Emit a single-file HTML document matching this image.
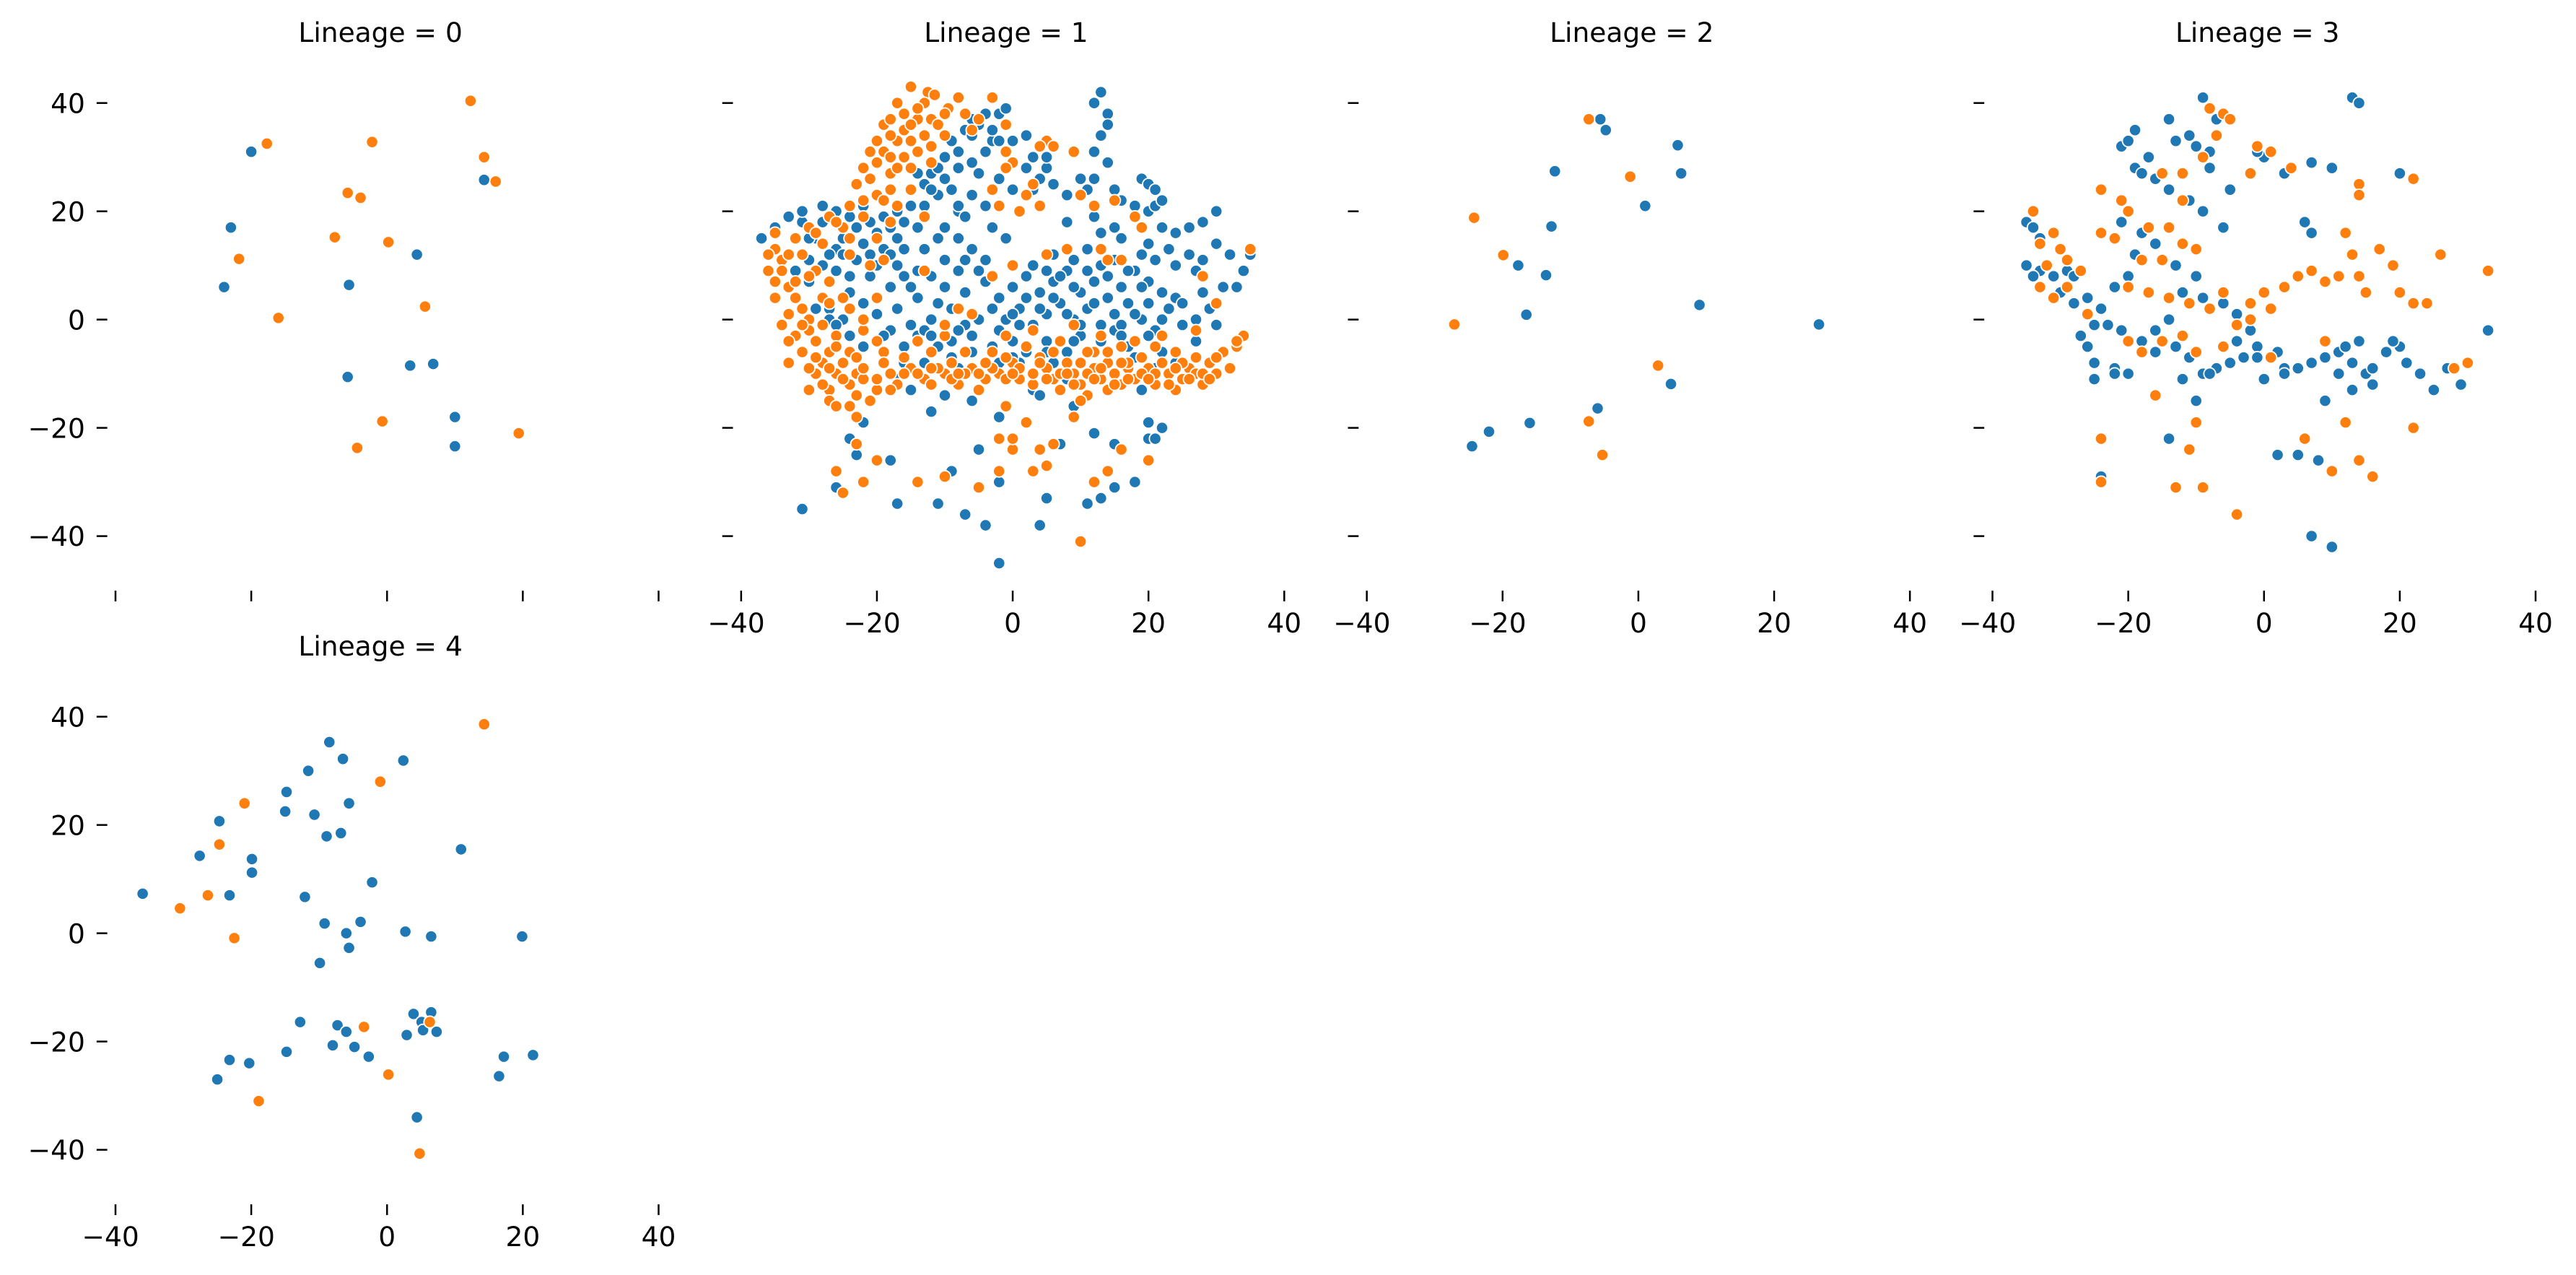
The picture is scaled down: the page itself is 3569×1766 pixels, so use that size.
<!DOCTYPE html>
<html><head><meta charset="utf-8"><style>
html,body{margin:0;padding:0;background:#fff;}
svg{display:block;font-family:"DejaVu Sans","Liberation Sans",sans-serif;}
</style></head><body>
<svg id="chart" width="3569" height="1766" viewBox="0 0 1568 776" xmlns="http://www.w3.org/2000/svg"></svg>
<script>
const lineages = ["0","1","2","3","4"];
const xTicks = [-40,-20,0,20,40];
const yTicks = [40,20,0,-20,-40];
const colors = ["#1f77b4","#ff7f0e"];
// flat [x,y,...] arrays per lineage, class A (blue) / class B (orange)
const blue0 = [-20,31,-23,17,-24,6,-5.6,6.4,-5.8,-10.6,4.4,12,3.4,-8.5,6.8,-8.2,10,-18,10,-23.4,14.3,25.8];
const orange0 = [-17.7,32.5,-21.8,11.2,-16,0.3,-2.2,32.8,-7.7,15.2,-5.8,23.4,-3.9,22.5,0.2,14.3,5.6,2.4,-4.4,-23.7,-0.7,-18.8,12.3,40.4,14.3,30,16,25.5,19.4,-21];
const orange1 = [-15,43,-12.5,42,-11.5,41.5,-8,41,-9.5,39,-17,40,-16,38,-14,37,-12,37,-10,38,-7,38,-19,36,-16,35,-13,34,-17,33,-20,33,-19,31,-14,31,-16,30,-20,29,-18,27,-21,26,-15,28,-12,29,-20,23,-22,22,-18,24,-22,19,-25,17,-24,15,-20,15,-18,18,-27,19,-30,17,-28,14,-24,12,-19,11,-21,10,-3,41,-5,37,-6,35,-1,36,-1,31,0,29,-1,28,5,33,4,32,6,32,9,31,-15,24,-13,19,-17,21,
-35,16,-35,13,-34,11,-36,9,-35,7,-33,6,-32,4,-35,4,-33,1,-31,2,-30,0,-34,-1,-32,-3,-30,-2,-28,-1,-29,-4,-27,-6,-31,-6,-28,-8,-25,-8,-26,-10,-23,-10,-27,-13,-24,-12,-23,-14,-20,-13,-22,-11,-29,-10,-26,-3,-25,4,-27,7,-29,9,-31,12,-27,-15,-24,-16,-23,-18,
-18,-10,-15,-9,-13,-11,-10,-10,-8,-12,-6,-9,-4,-11,-2,-10,0,-8,1,-11,3,-12,5,-9,6,-11,8,-8,9,-10,10,-12,12,-9,13,-11,14,-8,15,-10,16,-12,17,-9,18,-11,19,-7,20,-9,21,-12,22,-8,23,-10,24,-6,25,-11,26,-9,27,-7,28,-12,29,-8,30,-10,31,-6,33,-5,32,-9,34,-3,35,13,-16,-7,-12,-6,-7,-6,-3,-6,2,-5,4,-7,7,-4,11,-6,13,-3,16,-5,18,-4,22,-3,-9,-8,-5,-13,7,-13,11,-14,17,-11,21,-5,24,-13,27,-10,-1,-3,3,-2,9,-1,12,-6,14,-13,-19,-6,-14,-4,-10,-3,-6,1,-3,8,0,10,5,12,8,13,13,13,14,11,16,11,18,19,19,17,15,22,12,21,10,23,3,25,4,21,1,20,-13,9,-20,4,-10,-1,-8,2,-22,-2,28,8,33,-4,30,3,27,-2,-1,-16,2,-19,-2,-22,0,-24,4,-24,6,-23,9,-18,10,-15,5,-27,3,-28,-10,-29,-5,-31,-14,-30,-20,-26,-23,-23,-22,-30,-25,-32,-26,-28,-30,-13,-12,-12,10,-41,16,-24,12,-30,20,-26,14,-28,-2,-28,0,-22,-28,4,-22,0,11,-6,
-13,40,-14,39,-18,37,-15,36,-11,36,-18,34,-21,31,-18,30,-22,28,-17,28,-23,25,-19,22,-24,21,-26,18,-29,16,-32,15,-33,12,-36,12,-34,9,-32,7,-30,8,-31,-1,-33,-4,-29,-7,-27,-9,-30,-9,-25,-11,-22,-9,-20,-11,-17,-12,-14,-10,-11,-9,-9,-11,-7,-10,-5,-10,-3,-9,-1,-11,1,-9,3,-10,5,-11,7,-10,9,-12,11,-10,13,-9,15,-12,17,-8,19,-10,21,-10,23,-12,25,-8,26,-11,28,-10,30,-7,29,-11,24,-9,20,-11,16,-8,12,-11,8,-10,4,-8,0,-10,-4,-8,-8,-10,-12,-9,-16,-10,-19,-8,-24,-6,-26,-5,-23,-7,-20,-4,-26,-16,-28,-12,-21,-15,-18,-13,-1,-7,6,-6,10,-8,14,-6,-2,21,-3,24,2,23,-10,34,-12,32,-15,33,-24,2,-27,3,-33,-8];
const blue1 = [13,42,12,40,14,38,14,36,13,34,12,31,14,29,12,26,15,24,16,22,18,21,20,20,21,21,22,22,19,26,20,25,21,24,-5,36,-4,38,-2,38,-1,39,-6,37,-9,33,-7,35,-3,33,-2,33,0,33,3,30,2,28,5,28,4,26,-4,31,-6,29,-8,28,-10,30,-5,27,-12,27,-10,26,-13,25,-11,23,-6,23,-8,20,-13,21,-14,17,-11,15,-16,13,-8,15,-7,11,-3,17,-1,15,-4,21,-8,21,-16,18,-18,17,-20,16,-22,14,-23,11,-26,9,-28,10,-30,7,-33,6,-26,13,-29,15,-31,18,-33,19,-35,17,-37,15,-24,19,-22,21,-26,20,-28,21,-31,20,-19,13,-17,10,-14,9,-12,8,-10,6,-14,4,-18,6,-21,8,-24,5,-27,2,-25,0,-22,3,-20,1,-17,2,-15,-1,-12,0,-9,2,-7,-1,-5,0,-3,2,-1,0,1,2,3,-1,5,1,7,3,9,0,11,2,13,-1,15,1,17,3,19,0,21,-2,23,2,25,-1,-18,-2,-16,-5,-14,-3,-11,-5,-9,-4,-6,-3,-3,-5,0,-4,2,-6,5,-4,8,-6,10,-3,12,-6,15,-2,17,-5,20,-3,-2,4,0,6,2,8,4,5,6,7,8,9,10,5,12,7,14,8,16,6,18,9,20,7,22,5,3,10,6,12,9,11,11,13,13,16,15,17,-5,9,-7,5,-4,7,8,18,12,19,16,15,20,14,22,17,24,16,26,17,28,18,30,20,24,10,26,12,28,11,30,14,32,12,34,9,33,6,35,12,31,6,29,2,27,0,30,-1,27,-4,24,-8,21,-9,19,-13,-15,-13,-17,-11,-13,-8,-8,-9,-4,-8,1,-8,6,-8,3,-13,8,-11,-10,-14,-22,-19,-24,-22,-23,-25,-18,-26,-12,-17,-9,-28,-2,-30,-5,-24,-2,-18,4,-14,9,-16,12,-21,15,-23,13,-33,15,-31,18,-30,11,-34,-7,-36,-4,-38,5,-33,4,-38,20,-19,22,-20,20,-22,7,-23,-17,-34,-26,-31,-31,-35,-2,-45,-11,-34,-20,-13,0,-7,-6,-15,21,-22,
-30,15,-28,18,-25,15,-23,17,-21,12,-27,12,-30,11,-32,9,-24,8,-20,10,-18,12,-16,8,-13,13,-10,11,-8,9,-6,13,-4,11,-15,6,-11,3,-13,-2,-8,-2,-6,-6,-2,-2,1,-1,4,2,6,4,8,1,10,-1,12,3,14,4,16,-1,18,1,20,3,22,0,24,4,19,6,17,9,15,11,13,10,11,9,9,6,7,8,5,9,2,4,0,1,-2,-8,-9,-7,-12,-3,-16,-8,-19,-3,-22,-5,-24,-3,-27,0,-29,2,-26,-1,-6,34,-3,35,-8,31,-11,28,-14,27,-12,24,-9,24,-7,19,-10,17,-15,21,-17,15,-2,26,0,24,3,24,5,30,2,34,-1,36,6,25,8,23,10,26,11,24,-19,19,-17,20,-21,18,-25,12,5,-6,9,-4,13,-4,16,-3,18,-7,22,-6,25,3,28,5,27,9,23,13,21,11,19,12];
const blue2 = [-5.6,37,-4.8,35,-12.3,27.4,5.8,32.2,6.3,27,1,21,-12.8,17.2,-17.7,10,-13.6,8.2,-16.5,0.9,9,2.7,26.6,-0.9,-6,-16.4,-16,-19.1,-22,-20.7,-24.5,-23.4,4.8,-11.9];
const orange2 = [-7.3,37,-1.2,26.4,-24.2,18.8,-19.9,11.9,-27.1,-0.9,2.9,-8.5,-7.3,-18.8,-5.3,-25];
const blue3 = [-35,18,-34,17,-33,15,-35,10,-33,9,-34,8,-31,8,-29,9,-28,8,-30,5,-28,3,-26,4,-25,-1,-27,-3,-26,-5,-25,-8,-22,-9,-20,-10,-22,-10,-25,-11,-23,-1,-21,-2,-18,-4,-16,-6,-13,-5,-11,-7,-9,-10,-7,-9,-5,-8,-3,-7,-1,-5,1,-7,3,-9,5,-9,7,-8,9,-7,11,-6,13,-8,15,-10,16,-9,18,-6,20,-5,19,-4,21,-8,23,-10,25,-13,27,-9,29,-12,33,-2,11,-10,13,-13,9,-15,-21,32,-19,35,-20,33,-17,30,-19,28,-18,27,-16,26,-14,24,-11,22,-9,20,-13,33,-10,32,-8,31,-11,34,-14,37,-9,41,-7,37,-8,28,-5,24,0,30,-1,31,3,27,7,29,10,28,13,41,14,40,20,27,-21,18,-18,16,-16,14,-19,12,-13,10,-10,8,-12,5,-9,4,-6,3,-4,1,-2,-2,-20,8,-22,6,-24,2,-14,0,-16,-2,-24,-29,-14,-22,2,-25,5,-25,8,-26,7,-40,10,-42,-6,17,-12,-11,-10,-15,-8,-10,6,18,7,16,-1,-7,14,-4,16,-12,12,-5,2,-6,-4,-4,0,-11,3,-10];
const orange3 = [-34,20,-31,16,-33,14,-30,13,-32,10,-29,11,-33,6,-27,9,-24,16,-22,15,-24,24,-21,22,-20,20,-17,17,-14,17,-12,22,-15,27,-12,27,-9,30,-7,34,-6,38,-8,39,-5,37,-2,27,-1,32,1,31,4,28,-12,14,-10,13,-15,11,-18,11,-20,6,-17,5,-14,4,-11,3,-8,2,-6,5,-4,-1,-2,3,0,5,1,2,3,6,5,8,7,9,9,7,11,8,13,12,12,16,14,8,15,5,17,13,19,10,20,5,22,3,24,3,26,12,22,26,14,25,14,23,-20,-4,-18,-6,-15,-4,-12,-3,-10,-6,-6,-5,-2,0,-24,-22,-24,-30,-13,-31,-9,-31,-11,-24,-10,-19,10,-28,14,-26,16,-29,12,-19,22,-20,1,-7,9,-4,28,-9,33,9,30,-8,-31,4,-29,6,-26,1,-16,-14,-4,-36,6,-22];
const blue4 = [-36,7.3,-24.7,20.7,-27.6,14.3,-23.2,7,-19.9,13.7,-19.9,11.2,-14.8,26.1,-15,22.5,-11.6,30,-8.5,35.3,-6.5,32.2,-5.6,24,-10.7,21.9,-8.9,17.9,-6.8,18.5,-12.1,6.7,-9.2,1.8,-3.9,2.1,-2.2,9.4,2.4,31.9,10.9,15.5,-9.9,-5.5,-6,0,-5.6,-2.7,2.7,0.3,6.5,-0.6,19.9,-0.6,-12.8,-16.4,-14.8,-21.9,-7.3,-17,-8,-20.7,-6,-18.2,-4.8,-21,-2.7,-22.8,-23.2,-23.4,-20.3,-24,-25,-27,2.9,-18.8,3.9,-14.9,5.1,-16.4,6.5,-14.6,7.3,-18.2,5.3,-17.9,21.5,-22.5,17.2,-22.8,16.5,-26.4,4.4,-34];
const orange4 = [-30.5,4.6,-24.7,16.4,-26.4,7,-22.5,-0.9,-21,24,-1,28,14.3,38.6,-3.4,-17.3,0.2,-26.1,6.3,-16.4,-18.9,-31,4.8,-40.7];
const seriesBlue = [blue0,blue1,blue2,blue3,blue4];
const seriesOrange = [orange0,orange1,orange2,orange3,orange4];

const NS = "http://www.w3.org/2000/svg";
const svg = document.getElementById('chart');
const X0 = 235.5, PDX = 380.9, XS = 4.133;
const Y0 = 194.5, PDY = 373.5, YS = 3.295;
function px(p, v){ return X0 + (p%4)*PDX + v*XS; }
function py(p, v){ return Y0 + Math.floor(p/4)*PDY - v*YS; }
function mk(tag, attrs, parent){
  const e = document.createElementNS(NS, tag);
  for (const k in attrs) e.setAttribute(k, attrs[k]);
  (parent||svg).appendChild(e); return e;
}
lineages.forEach((lin, p) => {
  const g = mk('g', {});
  
  
  const cx = px(p, 0);
  const t = mk('text', {x: cx - 4, y: py(p,0) - 169, 'text-anchor':'middle', 'font-size':16.5, fill:'#000'}, g);
  t.textContent = 'Lineage = ' + lin;
  
  
  const col = p%4;
  yTicks.forEach(v => {
    const y = py(p, v);
    const tk = mk('line', {x1: px(p,-40)-11.5, x2: px(p,-40)-5, y1:y, y2:y, stroke:'#000', 'stroke-width':1.1}, g);
    
    
    if (col === 0) {
      const l = mk('text', {x: px(p,-40)-18.5, y: y+6, 'text-anchor':'end', 'font-size':16.5, fill:'#000'}, g);
      l.textContent = v < 0 ? '\u2212' + Math.abs(v) : String(v);
      
      
    }
  });
  const showX = (p >= 1);
  const yb = py(p, 0) + 165;
  xTicks.forEach(v => {
    const x = px(p, v);
    const tk = mk('line', {x1:x, x2:x, y1: yb, y2: yb+6.5, stroke:'#000', 'stroke-width':1.1}, g);
    
    
    if (showX) {
      const l = mk('text', {x: x - (v<0?3:0), y: yb + 25.5, 'text-anchor':'middle', 'font-size':16.5, fill:'#000'}, g);
      l.textContent = v < 0 ? '\u2212' + Math.abs(v) : String(v);
      
      
    }
  });
  [[seriesBlue[p], colors[0], 'point-blue'], [seriesOrange[p], colors[1], 'point-orange']].forEach(([arr, c, nm]) => {
    for (let i = 0; i < arr.length; i += 2) {
      const d = mk('circle', {cx: px(p, arr[i]), cy: py(p, arr[i+1]), r: 3.6, fill: c, stroke:'#fff', 'stroke-width':0.8}, g);
      
      
    }
  });
});
</script>
</body></html>
